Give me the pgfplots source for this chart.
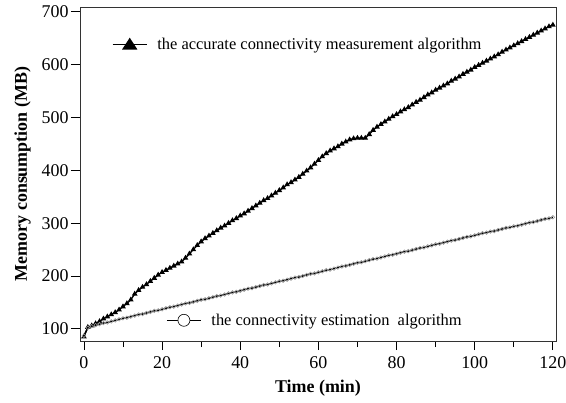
\documentclass[border=0pt]{standalone}
\usepackage{fontspec}
\setmainfont{Liberation Serif}
\usepackage{pgfplots}
\pgfplotsset{compat=1.18}
\usepackage{pgfplotstable}

% accurate connectivity measurement (MB per minute)
\pgfplotstableread{
t mem
0 85
1 103
2 106
3 110
4 114
5 119
6 123
7 127
8 131
9 136
10 142
11 148
12 155
13 166
14 173
15 179
16 184
17 190
18 196
19 202
20 207
21 211
22 215
23 219
24 223
25 227
26 234
27 242
28 250
29 258
30 265
31 271
32 276
33 281
34 286
35 291
36 295
37 300
38 305
39 309
40 314
41 318
42 323
43 328
44 333
45 338
46 343
47 347
48 352
49 357
50 362
51 367
52 373
53 377
54 382
55 387
56 393
57 399
58 405
59 412
60 419
61 426
62 432
63 437
64 441
65 445
66 450
67 454
68 458
69 460
70 461
71 461
72 461
73 468
74 476
75 482
76 487
77 492
78 497
79 502
80 506
81 511
82 515
83 519
84 524
85 529
86 533
87 538
88 543
89 547
90 552
91 556
92 560
93 564
94 569
95 573
96 577
97 582
98 586
99 590
100 595
101 599
102 603
103 607
104 611
105 615
106 619
107 624
108 628
109 632
110 636
111 640
112 644
113 648
114 652
115 656
116 660
117 664
118 668
119 672
120 675
}\accurate

% connectivity estimation
\pgfplotstableread{
t mem
0 87
1 102
2 105
3 107
4 109
5 111
6 112
7 114
8 116
9 118
10 120
11 121
12 123
13 125
14 127
15 128
16 130
17 132
18 134
19 135
20 137
21 139
22 141
23 142
24 144
25 146
26 148
27 149
28 151
29 153
30 155
31 156
32 158
33 160
34 162
35 163
36 165
37 167
38 169
39 170
40 172
41 174
42 176
43 177
44 179
45 181
46 183
47 184
48 186
49 188
50 190
51 191
52 193
53 195
54 197
55 198
56 200
57 202
58 204
59 205
60 207
61 209
62 211
63 212
64 214
65 216
66 218
67 219
68 221
69 223
70 225
71 226
72 228
73 230
74 232
75 233
76 235
77 237
78 239
79 240
80 242
81 244
82 246
83 247
84 249
85 251
86 253
87 254
88 256
89 258
90 260
91 261
92 263
93 265
94 267
95 268
96 270
97 272
98 274
99 275
100 277
101 279
102 281
103 282
104 284
105 285
106 287
107 289
108 291
109 292
110 294
111 295
112 297
113 299
114 301
115 302
116 304
117 306
118 308
119 309
120 311
}\estimation

\pgfplotsset{
  base/.style={
    scale only axis,
    width=476bp, height=334bp,
    xmin=-1, xmax=120.8,
    ymin=77, ymax=709,
    xtick={0,20,...,120},
    minor xtick={10,30,...,110},
    ytick={100,200,...,700},
    xtick pos=bottom, ytick pos=left,
    tick align=outside,
    major tick length=9bp,
    minor tick length=6bp,
    every tick/.style={black, line width=0.8bp},
    axis line style={line width=0.8bp, black!80},
    /pgf/number format/assume math mode=true,
    tick label style={font=\fontsize{18}{18}\selectfont},
    xticklabel style={yshift=-3bp},
    yticklabel style={xshift=1bp},
    label style={font=\fontsize{18}{18}\selectfont\bfseries},
    legend cell align=left,
    legend style={draw=none, fill=none, inner sep=0pt,
      font=\fontsize{16.5}{16.5}\selectfont,
      /tikz/every odd column/.append style={column sep=5bp},
      nodes={inner xsep=5bp}},
  },
}

\begin{document}
\begin{tikzpicture}
\begin{axis}[base, name=ax,
  xlabel={Time (min)},
  ylabel={Memory consumption (MB)},
  xlabel style={yshift=-5bp},
  ylabel style={yshift=4bp},
  legend style={at={(0.067,0.888)}, anchor=west},
  legend image code/.code={
    \draw[black, line width=1.3bp] (0bp,0bp) -- (34bp,0bp);
    \fill[black] (17bp,5.5bp) -- (23.5bp,-4.5bp) -- (10.5bp,-4.5bp) -- cycle;
  },
]
\addplot[black, line width=1.3bp, mark=triangle*, mark size=2bp,
  mark options={solid, fill=black}] table[x=t, y=mem] {\accurate};
\addlegendentry{the accurate connectivity measurement algorithm}
\end{axis}
\begin{axis}[base, hide axis,
  legend style={at={(0.181,0.062)}, anchor=west},
  legend image code/.code={
    \draw[black, line width=1.1bp] (0bp,0bp) -- (34bp,0bp);
    \draw[black, fill=white, line width=0.6bp] (17bp,0bp) circle[radius=6bp];
  },
]
\addplot[black, line width=1.5bp, mark=o, mark size=1.8bp,
  mark options={solid, draw=black!40, line width=0.6bp}] table[x=t, y=mem] {\estimation};
\addlegendentry{the connectivity estimation\ \ algorithm}
\end{axis}
\pgfresetboundingbox
\useasboundingbox ([shift={(-80bp,-62bp)}]ax.south west) rectangle ([shift={(10bp,7bp)}]ax.north east);
\end{tikzpicture}
\end{document}
